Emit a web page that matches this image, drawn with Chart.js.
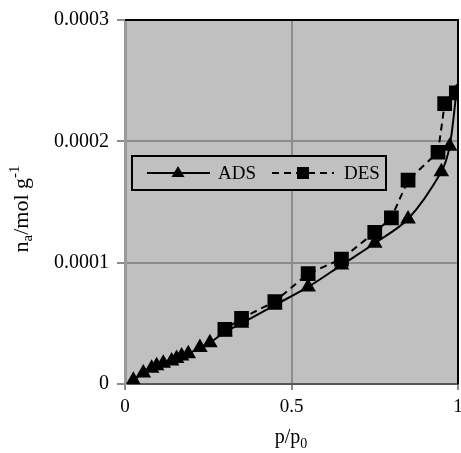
<!DOCTYPE html>
<html>
<head>
<meta charset="utf-8">
<script src="https://cdn.jsdelivr.net/npm/chart.js@4/dist/chart.umd.min.js"></script>
<style>
  html, body { margin: 0; padding: 0; background: #fff; }
  #wrap { width: 461px; height: 453px; }
</style>
</head>
<body>
<div id="wrap"><canvas id="isoChart" width="461" height="453"></canvas></div>
<script>
// relative pressure p/p0 and amount adsorbed (mol/g)
const adsP = [0.025, 0.055, 0.08, 0.095, 0.115, 0.14, 0.155, 0.17, 0.19, 0.225, 0.255, 0.3, 0.35, 0.45, 0.55, 0.65, 0.75, 0.85, 0.95, 0.975, 0.995];
const adsN = [0.000003, 0.000009, 0.000013, 0.000015, 0.000017, 0.000019, 0.000021, 0.000023, 0.000025, 0.00003, 0.000034, 0.000043, 0.00005, 0.000065, 0.00008, 0.000098, 0.000116, 0.000136, 0.000175, 0.000196, 0.00024];
const desP = [0.995, 0.96, 0.94, 0.85, 0.8, 0.75, 0.65, 0.55, 0.45, 0.35, 0.3];
const desN = [0.00024, 0.000231, 0.000191, 0.000168, 0.000137, 0.000125, 0.000103, 0.000091, 0.000068, 0.000054, 0.000045];
const xTicks = [0, 0.5, 1];
const xTickLabels = ['0', '0.5', '1'];
const yTicks = [0, 0.0001, 0.0002, 0.0003];
const yTickLabels = ['0', '0.0001', '0.0002', '0.0003'];

const FONT = '"Liberation Serif", "Times New Roman", serif';
const PLOT_BG = '#c0c0c0';

// grey plot background, top/right frame, axis titles and the inset legend
const isoPlugin = {
    id: 'isoDecor',
    beforeDraw(chart) {
        const a = chart.chartArea;
        const ctx = chart.ctx;
        ctx.save();
        ctx.fillStyle = PLOT_BG;
        ctx.fillRect(a.left, a.top, a.right - a.left, a.bottom - a.top);
        ctx.restore();
    },
    afterDraw(chart) {
        const a = chart.chartArea;
        const ctx = chart.ctx;
        ctx.save();
        // frame
        ctx.strokeStyle = '#000';
        ctx.lineWidth = 2;
        ctx.beginPath();
        ctx.moveTo(a.left, a.top);
        ctx.lineTo(a.right, a.top);
        ctx.lineTo(a.right, a.bottom);
        ctx.stroke();

        ctx.fillStyle = '#000';
        ctx.textBaseline = 'alphabetic';

        // x title: p/p0
        let big = '20px ' + FONT, small = '14px ' + FONT;
        ctx.font = big;
        const w1 = ctx.measureText('p/p').width;
        ctx.font = small;
        const w2 = ctx.measureText('0').width;
        let x0 = 291 - (w1 + w2) / 2;
        ctx.font = big;
        ctx.fillText('p/p', x0, 443);
        ctx.font = small;
        ctx.fillText('0', x0 + w1, 448);

        // y title: n_a/mol g^-1 (rotated)
        big = '22px ' + FONT; small = '15px ' + FONT;
        ctx.translate(28, 209);
        ctx.rotate(-Math.PI / 2);
        ctx.font = big;
        const a1 = ctx.measureText('n').width;
        const a3 = ctx.measureText('/mol g').width;
        ctx.font = small;
        const a2 = ctx.measureText('a').width;
        const a4 = ctx.measureText('-1').width;
        let yx = -(a1 + a2 + a3 + a4) / 2;
        ctx.font = big;
        ctx.fillText('n', yx, 0);
        ctx.font = small;
        ctx.fillText('a', yx + a1, 4);
        ctx.font = big;
        ctx.fillText('/mol g', yx + a1 + a2, 0);
        ctx.font = small;
        ctx.fillText('-1', yx + a1 + a2 + a3, -9);
        ctx.restore();

        // legend box
        ctx.save();
        ctx.fillStyle = PLOT_BG;
        ctx.fillRect(132, 156, 254, 34);
        ctx.strokeStyle = '#000';
        ctx.lineWidth = 2;
        ctx.strokeRect(132, 156, 254, 34);
        const ly = 173;
        const ds = chart.data.datasets;
        // ADS sample
        ctx.lineWidth = 2;
        ctx.setLineDash([]);
        ctx.beginPath();
        ctx.moveTo(147, ly); ctx.lineTo(210, ly); ctx.stroke();
        ctx.fillStyle = '#000';
        ctx.beginPath();
        ctx.moveTo(178, ly - 7); ctx.lineTo(184.5, ly + 4); ctx.lineTo(171.5, ly + 4); ctx.closePath();
        ctx.fill();
        // DES sample
        ctx.setLineDash(ds[1].borderDash);
        ctx.beginPath();
        ctx.moveTo(272, ly); ctx.lineTo(334, ly); ctx.stroke();
        ctx.setLineDash([]);
        ctx.fillRect(297, ly - 6, 12, 12);
        ctx.font = '19px ' + FONT;
        ctx.textBaseline = 'middle';
        ctx.fillText(ds[0].label, 218, ly + 1);
        ctx.fillText(ds[1].label, 344, ly + 1);
        ctx.restore();
    }
};

const ctx = document.getElementById('isoChart');
new Chart(ctx, {
    type: 'scatter',
    data: {
        datasets: [{
            label: 'ADS',
            data: adsP.map((p, i) => ({ x: p, y: adsN[i] })),
            showLine: true,
            borderColor: '#000',
            backgroundColor: '#000',
            borderWidth: 2,
            tension: 0.3,
            pointStyle: 'triangle',
            pointRadius: 7,
            pointHoverRadius: 7
        }, {
            label: 'DES',
            data: desP.map((p, i) => ({ x: p, y: desN[i] })),
            showLine: true,
            borderColor: '#000',
            backgroundColor: '#000',
            borderWidth: 2,
            borderDash: [7, 5],
            tension: 0,
            pointStyle: 'rect',
            pointRadius: 9,
            pointHoverRadius: 9
        }]
    },
    options: {
        responsive: false,
        animation: false,
        events: [],
        layout: { autoPadding: false, padding: { left: 0, top: 20, right: 3, bottom: 0 } },
        plugins: { legend: { display: false }, tooltip: { enabled: false } },
        scales: {
            x: {
                type: 'linear',
                min: 0, max: 1,
                afterBuildTicks: s => { s.ticks = xTicks.map(v => ({ value: v })); },
                afterFit: s => { s.height = 69; s.paddingLeft = 0; s.paddingRight = 0; },
                ticks: {
                    color: '#000',
                    font: { family: FONT, size: 19 },
                    padding: 6,
                    maxRotation: 0,
                    callback: (v, i) => xTickLabels[i]
                },
                grid: { color: '#8c8c8c', lineWidth: 2, tickLength: 6, tickColor: '#8c8c8c' },
                border: { color: '#555', width: 2 }
            },
            y: {
                type: 'linear',
                min: 0, max: 0.0003,
                afterBuildTicks: s => { s.ticks = yTicks.map(v => ({ value: v })); },
                afterFit: s => { s.width = 125; s.paddingTop = 0; s.paddingBottom = 0; },
                ticks: {
                    color: '#000',
                    font: { family: FONT, size: 20 },
                    padding: 8,
                    callback: (v, i) => yTickLabels[i]
                },
                grid: { color: '#8c8c8c', lineWidth: 2, tickLength: 8, tickColor: '#8c8c8c' },
                border: { color: '#9a9a9a', width: 3 }
            }
        }
    },
    plugins: [isoPlugin]
});
</script>
</body>
</html>
